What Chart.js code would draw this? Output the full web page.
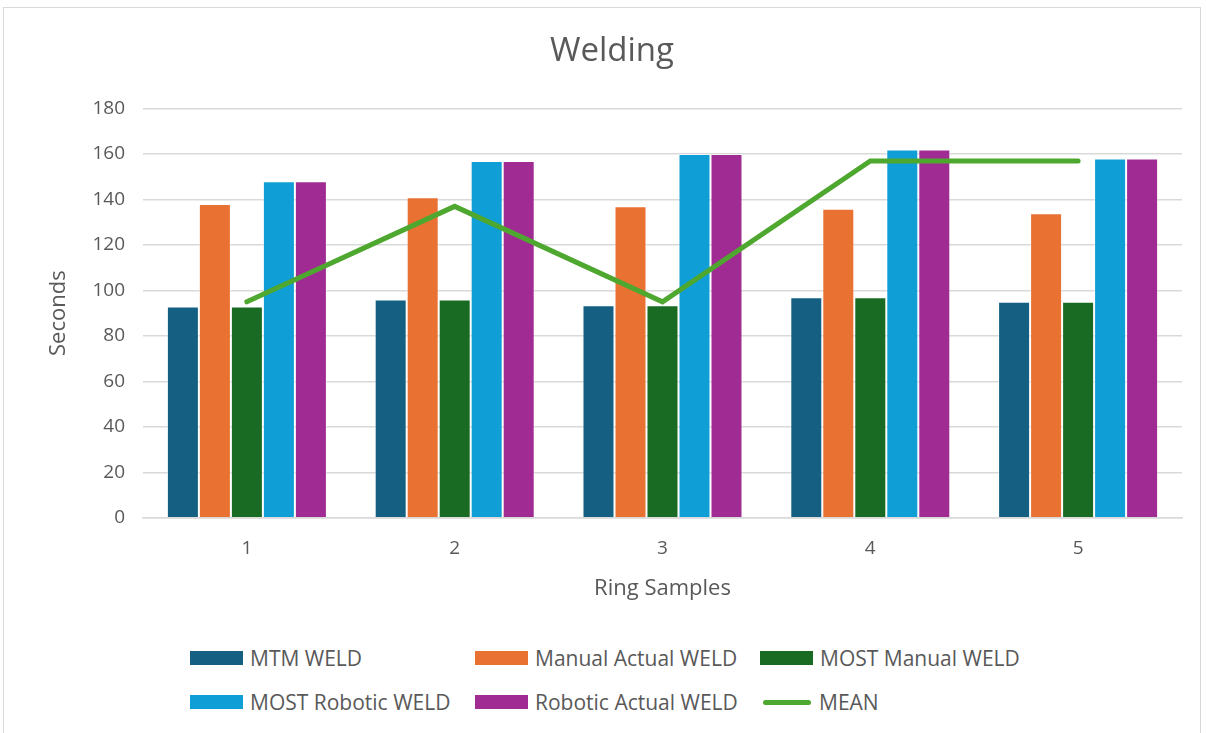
<!DOCTYPE html>
<html>
<head>
<meta charset="utf-8">
<script src="https://cdn.jsdelivr.net/npm/chart.js@4"></script>
<style>
  html, body { margin: 0; padding: 0; background: #fff; }
  body { width: 1206px; height: 733px; overflow: hidden; position: relative; font-family: "Open Sans", sans-serif; }
  #frame { position: absolute; left: 3px; top: 7px; width: 1196px; height: 740px; border: 1px solid #d9d9d9; }
  #wrap { position: absolute; left: 0; top: 0; width: 1206px; height: 620px; }
  #legend { position: absolute; left: 190px; top: 646px; display: grid; grid-template-columns: 285px 285px 285px; row-gap: 20px; }
  .item { display: flex; align-items: center; font-size: 21px; color: #595959; height: 24px; white-space: nowrap; }
  .sw { width: 53px; height: 14px; margin-right: 7px; }
  .ln { width: 48px; height: 5px; border-radius: 3px; margin: 0 8px 0 3px; }
</style>
</head>
<body>
<div id="frame"></div>
<div id="wrap"><canvas id="myChart"></canvas></div>
<div id="legend"></div>
<script>
// data
const samples = ['1', '2', '3', '4', '5'];
const mtmWeld = [93, 96, 93.5, 97, 95];
const manualActualWeld = [138, 141, 137, 136, 134];
const mostManualWeld = [93, 96, 93.5, 97, 95];
const mostRoboticWeld = [148, 157, 160, 162, 158];
const roboticActualWeld = [148, 157, 160, 162, 158];
const meanWeld = [95, 137, 95, 157, 157];

const barSeries = [
  { label: 'MTM WELD', data: mtmWeld, color: '#156082' },
  { label: 'Manual Actual WELD', data: manualActualWeld, color: '#E97132' },
  { label: 'MOST Manual WELD', data: mostManualWeld, color: '#196B24' },
  { label: 'MOST Robotic WELD', data: mostRoboticWeld, color: '#0F9ED5' },
  { label: 'Robotic Actual WELD', data: roboticActualWeld, color: '#A02B93' }
];
const meanColor = '#4EA72E';

const canvas = document.getElementById('myChart');
const ctx = canvas.getContext('2d');

const datasets = barSeries.map(s => ({
  type: 'bar',
  label: s.label,
  data: s.data,
  backgroundColor: s.color,
  borderColor: 'rgba(255,255,255,0.45)',
  borderWidth: 1,
  order: 2
}));
datasets.push({
  type: 'line',
  label: 'MEAN',
  data: meanWeld,
  borderColor: meanColor,
  borderWidth: 5,
  pointRadius: 0,
  tension: 0,
  borderCapStyle: 'round',
  order: 1
});

window._myChart = new Chart(ctx, {
  data: { labels: samples, datasets: datasets },
  options: {
    responsive: true,
    maintainAspectRatio: false,
    animation: false,
    layout: { padding: { top: 22, left: 42, right: 24, bottom: 14 } },
    datasets: { bar: { categoryPercentage: 0.77, barPercentage: 1 } },
    plugins: {
      legend: { display: false },
      tooltip: { enabled: false },
      title: {
        display: true,
        text: 'Welding',
        color: '#595959',
        font: { family: 'Open Sans', size: 33, weight: 'normal' },
        padding: { top: 10, bottom: 37 }
      }
    },
    scales: {
      x: {
        grid: { display: false, drawTicks: false },
        border: { color: '#d9d9d9', width: 1.5 },
        ticks: { color: '#595959', font: { family: 'Open Sans', size: 19 }, padding: 19 },
        title: { display: true, text: 'Ring Samples', color: '#595959', font: { family: 'Open Sans', size: 22 }, padding: { top: -3 } }
      },
      y: {
        min: 0, max: 180,
        ticks: { stepSize: 20, color: '#595959', font: { family: 'Open Sans', size: 19 }, padding: 18 },
        grid: { color: '#d9d9d9', lineWidth: 1.5, drawTicks: false },
        border: { display: false },
        title: { display: true, text: 'Seconds', color: '#595959', font: { family: 'Open Sans', size: 22 }, padding: { bottom: 2 } }
      }
    }
  }
});

// legend laid out in Excel-style columns
const legend = document.getElementById('legend');
barSeries.forEach(s => {
  legend.insertAdjacentHTML('beforeend',
    '<div class="item"><span class="sw" style="background:' + s.color + '"></span>' + s.label + '</div>');
});
legend.insertAdjacentHTML('beforeend',
  '<div class="item"><span class="ln" style="background:' + meanColor + '"></span>MEAN</div>');
</script>
</body>
</html>
